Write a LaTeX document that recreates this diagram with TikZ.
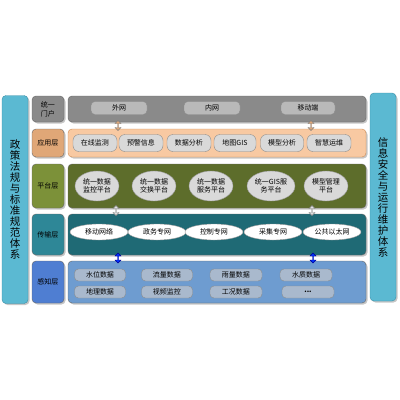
\documentclass[tikz,border=0pt]{standalone}
\usepackage{fontspec}
\newfontfamily\cjk{Noto Sans CJK SC}
\usetikzlibrary{shapes.arrows,shapes.geometric,shadows}
\definecolor{sidebar}{HTML}{5BB9D2}
\definecolor{sideline}{HTML}{3A8EA6}
\definecolor{portalbg}{HTML}{8A8A8A}
\definecolor{portalpill}{HTML}{B9B9B9}
\definecolor{appbg}{HTML}{F8C9A2}
\definecolor{applabel}{HTML}{E0A777}
\definecolor{appline}{HTML}{D08A50}
\definecolor{platbg}{HTML}{5D6D2B}
\definecolor{platlabel}{HTML}{7C9139}
\definecolor{transbg}{HTML}{1F6A75}
\definecolor{translabel}{HTML}{2E8797}
\definecolor{sensebg}{HTML}{6E9CD0}
\definecolor{senselabel}{HTML}{4F7ED2}
\definecolor{sensebox}{HTML}{A9B9CD}
\tikzstyle{shade}=[drop shadow={opacity=.45,shadow xshift=1.5pt,shadow yshift=-1.5pt}]
\tikzstyle{side}=[draw=sideline, fill=sidebar, rounded corners=4pt, shade,
                  minimum width=26pt, minimum height=208pt, inner sep=0pt,
                  align=center, font=\cjk\fontsize{10.5}{11}\selectfont]
\tikzstyle{label}=[draw=black!60, rounded corners=4pt, shade, minimum width=32pt,
                   inner sep=0pt, align=center, font=\cjk\fontsize{7}{9}\selectfont]
\tikzstyle{layer}=[draw=black!60, rounded corners=4pt, shade, minimum width=298pt,
                   inner sep=0pt]
\tikzstyle{pill}=[draw=black!45, rounded corners=4pt, inner sep=0pt,
                  font=\cjk\fontsize{7}{8}\selectfont]
\tikzstyle{oval}=[draw=black!40, ellipse, inner sep=0pt, align=center,
                  font=\cjk\fontsize{7}{8.5}\selectfont]
\tikzstyle{link}=[draw=black!50, double arrow, rotate=90, inner sep=0pt,
                  minimum height=10pt, minimum width=6pt,
                  double arrow head extend=1pt]

\begin{document}
\begin{tikzpicture}[x=1pt,y=-1pt]
\useasboundingbox (0,0) rectangle (400,400);
% side columns
\node[side] (law) at (15,199.5) {政\\策\\法\\规\\与\\标\\准\\规\\范\\体\\系};
\node[side] (sec) at (383,197) {信\\息\\安\\全\\与\\运\\行\\维\\护\\体\\系};
% layer labels
\node[label, fill=portalbg, minimum height=26pt] (lportal) at (48,109) {统一\\门户};
\node[label, fill=applabel, minimum height=28pt] (lapp) at (48,143) {应用层};
\node[label, fill=platlabel, minimum height=44pt] (lplat) at (48,186) {平台层};
\node[label, fill=translabel, minimum height=41pt] (ltrans) at (48,234.5) {传输层};
\node[label, fill=senselabel, minimum height=42pt] (lsense) at (48,282) {感知层};
% layer bodies
\node[layer, fill=portalbg, minimum height=26pt] (portal) at (217,109) {};
\node[layer, fill=appbg, draw=appline, minimum height=28pt] (app) at (217,143) {};
\node[layer, fill=platbg, minimum height=44pt] (plat) at (217,186) {};
\node[layer, fill=transbg, minimum height=41pt] (trans) at (217,234.5) {};
\node[layer, fill=sensebg, minimum height=42pt] (sense) at (217,282) {};
% portal
\node[pill, fill=portalpill, minimum width=56pt, minimum height=13pt] (ww) at (119,108) {外网};
\node[pill, fill=portalpill, minimum width=56pt, minimum height=13pt] (nw) at (212,108) {内网};
\node[pill, fill=portalpill, minimum width=54pt, minimum height=13pt] (yd) at (308,108) {移动端};
% applications
\node[pill, fill=black!15, rounded corners=6pt, minimum width=44pt, minimum height=17pt] (zx) at (95,143) {在线监测};
\node[pill, fill=black!15, rounded corners=6pt, minimum width=44pt, minimum height=17pt] (yj) at (141,143) {预警信息};
\node[pill, fill=black!15, rounded corners=6pt, minimum width=44pt, minimum height=17pt] (sj) at (189,143) {数据分析};
\node[pill, fill=black!15, rounded corners=6pt, minimum width=42pt, minimum height=17pt] (gis) at (235,143) {地图GIS};
\node[pill, fill=black!15, rounded corners=6pt, minimum width=43pt, minimum height=17pt] (mx) at (282,143) {模型分析};
\node[pill, fill=black!15, rounded corners=6pt, minimum width=44pt, minimum height=17pt] (zh) at (329,143) {智慧运维};
% platforms
\node[oval, fill=black!15, minimum width=44pt, minimum height=30pt] (pt1) at (97,186) {统一数据\\监控平台};
\node[oval, fill=black!15, minimum width=44pt, minimum height=30pt] (pt2) at (154,186) {统一数据\\交换平台};
\node[oval, fill=black!15, minimum width=44pt, minimum height=30pt] (pt3) at (211,186) {统一数据\\服务平台};
\node[oval, fill=black!15, minimum width=48pt, minimum height=30pt] (pt4) at (271,186) {统一GIS服\\务平台};
\node[oval, fill=black!15, minimum width=44pt, minimum height=30pt] (pt5) at (326,186) {模型管理\\平台};
% networks
\node[oval, fill=white, minimum width=58pt, minimum height=16pt] (nt1) at (99,232) {移动网络};
\node[oval, fill=white, minimum width=58pt, minimum height=16pt] (nt2) at (157,232) {政务专网};
\node[oval, fill=white, minimum width=58pt, minimum height=16pt] (nt3) at (214,232) {控制专网};
\node[oval, fill=white, minimum width=58pt, minimum height=16pt] (nt4) at (273,232) {采集专网};
\node[oval, fill=white, minimum width=58pt, minimum height=16pt] (nt5) at (332,232) {公共以太网};
% sensing
\node[pill, fill=sensebox, minimum width=51pt, minimum height=12pt] (sw) at (100,275) {水位数据};
\node[pill, fill=sensebox, minimum width=51pt, minimum height=12pt] (ll) at (167,275) {流量数据};
\node[pill, fill=sensebox, minimum width=52pt, minimum height=12pt] (yl) at (236,275) {雨量数据};
\node[pill, fill=sensebox, minimum width=52pt, minimum height=12pt] (sz) at (306,275) {水质数据};
\node[pill, fill=sensebox, minimum width=51pt, minimum height=12pt] (dl) at (100,292) {地理数据};
\node[pill, fill=sensebox, minimum width=51pt, minimum height=12pt] (sp) at (167,292) {视频监控};
\node[pill, fill=sensebox, minimum width=52pt, minimum height=12pt] (gk) at (236,292) {工况数据};
\node[pill, fill=sensebox, minimum width=52pt, minimum height=12pt] (more) at (308,292) {\textbf{...}};
% links between layers
\node[link, fill=applabel] (a1) at (118,125.5) {};
\node[link, fill=applabel] (a2) at (311,125.5) {};
\node[link, fill=black!12] (a3) at (116,210.5) {};
\node[link, fill=black!12] (a4) at (312,210.5) {};
\node[link, fill=blue!80!cyan, draw=blue!60!black] (a5) at (118,258) {};
\node[link, fill=blue!80!cyan, draw=blue!60!black] (a6) at (313,258) {};
\end{tikzpicture}
\end{document}
